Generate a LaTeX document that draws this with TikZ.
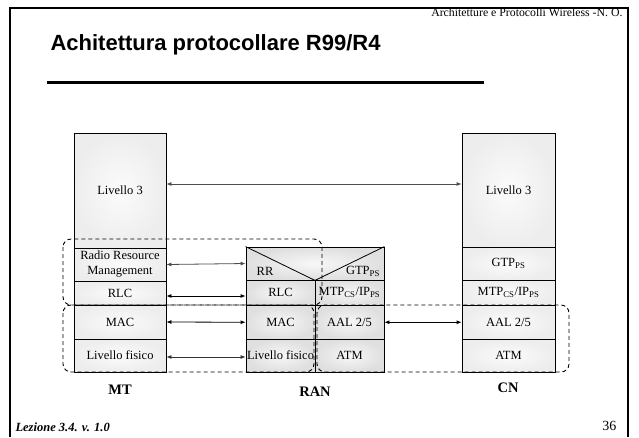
\documentclass[tikz,border=0pt]{standalone}
\usepackage{fontspec}
\setmainfont{Liberation Serif}
\newfontfamily\titolofont{Liberation Sans}
\usetikzlibrary{arrows.meta}

\begin{document}
\begin{tikzpicture}[x=1pt, y=-1pt, >={Latex[length=5pt,width=4pt]}] % coordinate in pixel, y verso il basso
    % Stili per i livelli della pila protocollare
    \tikzset{
        livello/.style={
            rectangle,
            draw=black,
            line width=0.8pt,
            inner sep=0pt,
            font=\fontsize{12.5}{15}\selectfont,
            shade,
            inner color=gray!3,
            outer color=gray!14
        },
        livran/.style={
            livello,
            inner color=gray!6,
            outer color=gray!25
        },
        peer/.style={<->, line width=0.8pt},
        gruppo/.style={line width=0.9pt, dash pattern=on 4pt off 3pt, rounded corners=8pt},
        etichetta/.style={font=\bfseries\fontsize{14.5}{16}\selectfont}
    }

    \useasboundingbox (0,0) rectangle (639,437);

    % --- Cornice e intestazione della slide ---
    \draw[line width=2.5pt] (10,437) -- (10,8) -- (628,8) -- (628,437);
    \node[anchor=base east, font=\fontsize{11.8}{13}\selectfont] (intestazione) at (626,16) {Architetture e Protocolli Wireless -N. O.};
    \node[anchor=base west, font=\titolofont\bfseries\fontsize{22}{25}\selectfont] (titolo) at (47,50) {Achitettura protocollare R99/R4};
    \draw[line width=3pt] (47,82) -- (484,82);

    % --- Pila MT ---
    \node[livello, minimum width=92pt, minimum height=115pt] (mtL3) at (120,190.5) {Livello 3};
    \node[livello, minimum width=92pt, minimum height=33pt, align=center] (mtRRM) at (120,264.5) {Radio Resource\\Management};
    \node[livello, minimum width=92pt, minimum height=24pt] (mtRLC) at (120,293) {RLC};
    \node[livello, minimum width=92pt, minimum height=34pt] (mtMAC) at (120,322) {MAC};
    \node[livello, minimum width=92pt, minimum height=33pt] (mtPHY) at (120,355.5) {Livello fisico};

    % --- Pila RAN ---
    \node[livran, minimum width=138pt, minimum height=33pt] (ranTop) at (315,263.5) {};
    \draw[line width=0.8pt] (ranTop.north west) -- (ranTop.south) -- (ranTop.north east);
    \node[font=\fontsize{12.5}{15}\selectfont] (ranRR) at (265,271) {RR};
    \node[font=\fontsize{12.5}{15}\selectfont] (ranGTP) at (363,271) {GTP\textsubscript{PS}};
    \node[livran, minimum width=69pt, minimum height=25.5pt] (ranRLC) at (280.5,292.75) {RLC};
    \node[livran, minimum width=69pt, minimum height=25.5pt] (ranMTP) at (349.5,292.75) {MTP\textsubscript{CS}/IP\textsubscript{PS}};
    \node[livran, minimum width=69pt, minimum height=33.5pt] (ranMAC) at (280.5,322.25) {MAC};
    \node[livran, minimum width=69pt, minimum height=33.5pt] (ranAAL) at (349.5,322.25) {AAL 2/5};
    \node[livran, minimum width=69pt, minimum height=33pt] (ranPHY) at (280.5,355.5) {Livello fisico};
    \node[livran, minimum width=69pt, minimum height=33pt] (ranATM) at (349.5,355.5) {ATM};

    % --- Pila CN ---
    \node[livello, minimum width=93pt, minimum height=114pt] (cnL3) at (508.5,190) {Livello 3};
    \node[livello, minimum width=93pt, minimum height=33pt] (cnGTP) at (508.5,263.5) {GTP\textsubscript{PS}};
    \node[livello, minimum width=93pt, minimum height=25.5pt] (cnMTP) at (508.5,292.75) {MTP\textsubscript{CS}/IP\textsubscript{PS}};
    \node[livello, minimum width=93pt, minimum height=33.5pt] (cnAAL) at (508.5,322.25) {AAL 2/5};
    \node[livello, minimum width=93pt, minimum height=33pt] (cnATM) at (508.5,355.5) {ATM};

    % --- Colloqui tra entita' pari ---
    \draw[peer, gray!60!black] ([yshift=6.5pt]mtL3.east) -- ([yshift=6pt]cnL3.west);
    \draw[peer, gray!60!black] (mtRRM.east) -- (ranTop.west);
    \draw[peer] ([yshift=-3pt]mtRLC.east) -- ([yshift=-3.25pt]ranRLC.west);
    \draw[peer] (mtMAC.east) -- (ranMAC.west);
    \draw[peer, gray!40!black] ([yshift=-1.5pt]mtPHY.east) -- ([yshift=-1.5pt]ranPHY.west);
    \draw[peer] (ranAAL.east) -- (cnAAL.west);

    % --- Raggruppamenti tratteggiati ---
    \draw[gruppo] (63,239) rectangle (322,305);
    \draw[gruppo] (63,305) rectangle (314,372);
    \draw[gruppo] (317,305) rectangle (569,372);

    % Etichette delle pile
    \node[etichetta] (mt) at (120,390) {MT};
    \node[etichetta] (ran) at (315,392) {RAN};
    \node[etichetta] (cn) at (508,388) {CN};

    % --- Pie' di pagina ---
    \node[anchor=base west, font=\bfseries\itshape\fontsize{12.5}{14}\selectfont] (lezione) at (12,431) {Lezione 3.4. v. 1.0};
    \node[anchor=base east, font=\fontsize{14}{16}\selectfont] (pagina) at (620,430) {36};
\end{tikzpicture}
\end{document}
